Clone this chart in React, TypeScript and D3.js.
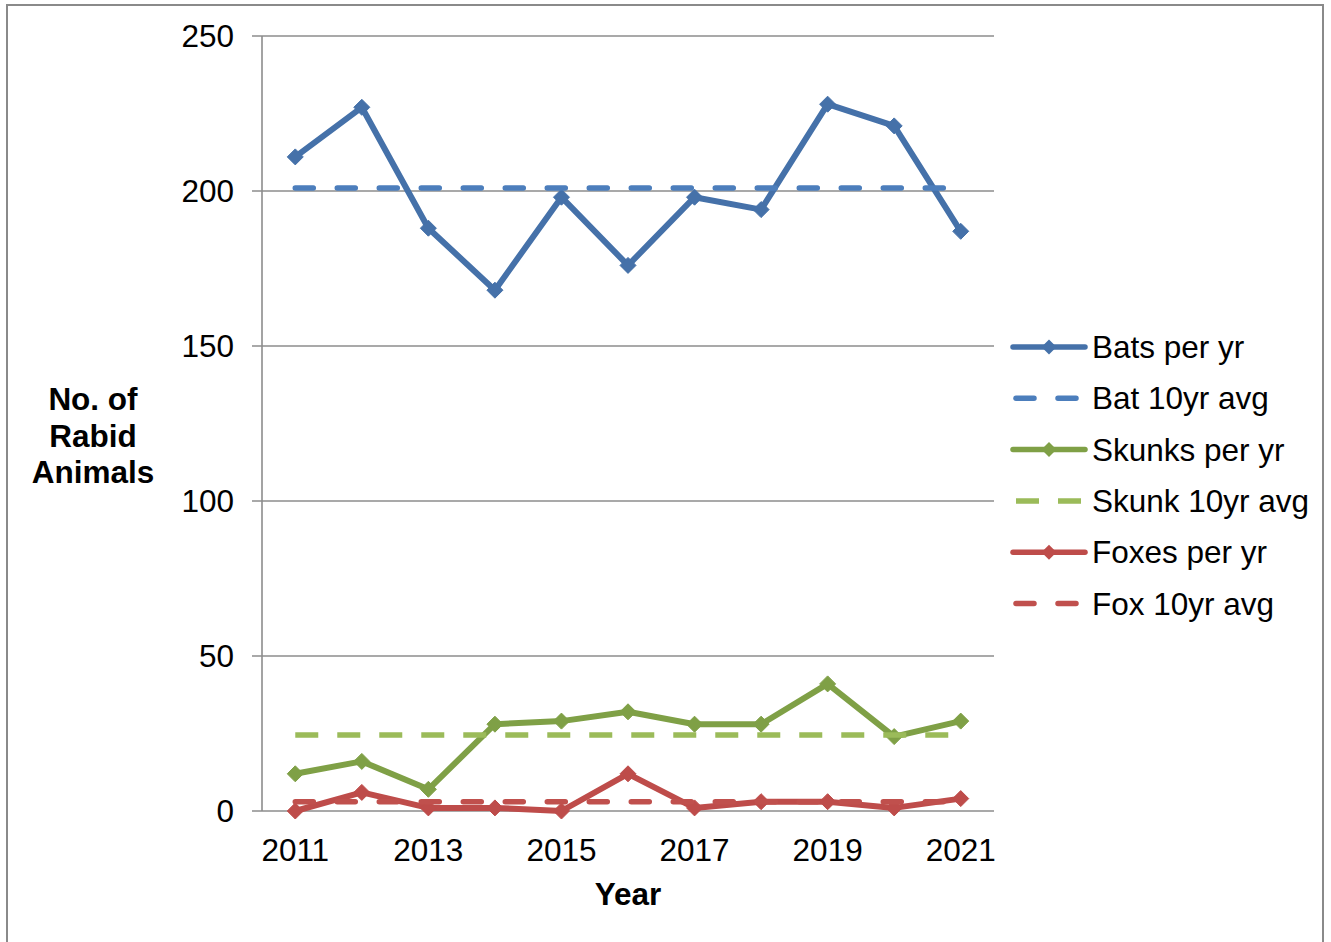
import React from "react";
import * as d3 from "d3";

const years = [2011, 2012, 2013, 2014, 2015, 2016, 2017, 2018, 2019, 2020, 2021];
const batsPerYr = [211, 227, 188, 168, 198, 176, 198, 194, 228, 221, 187];
const batAvg = [201, 201, 201, 201, 201, 201, 201, 201, 201, 201, 201];
const skunksPerYr = [12, 16, 7, 28, 29, 32, 28, 28, 41, 24, 29];
const skunkAvg = [24.5, 24.5, 24.5, 24.5, 24.5, 24.5, 24.5, 24.5, 24.5, 24.5, 24.5];
const foxesPerYr = [0, 6, 1, 1, 0, 12, 1, 3, 3, 1, 4];
const foxAvg = [3, 3, 3, 3, 3, 3, 3, 3, 3, 3, 3];
const yTicks = [0, 50, 100, 150, 200, 250];

type Series = {
  name: string;
  values: number[];
  color: string;
  dashed: boolean;
  cap: "round" | "butt";
};

const series: Series[] = [
  { name: "Bats per yr", values: batsPerYr, color: "#4571A9", dashed: false, cap: "round" },
  { name: "Bat 10yr avg", values: batAvg, color: "#4C7EBC", dashed: true, cap: "round" },
  { name: "Skunks per yr", values: skunksPerYr, color: "#7FA046", dashed: false, cap: "round" },
  { name: "Skunk 10yr avg", values: skunkAvg, color: "#9BBB59", dashed: true, cap: "butt" },
  { name: "Foxes per yr", values: foxesPerYr, color: "#BE4C4A", dashed: false, cap: "round" },
  { name: "Fox 10yr avg", values: foxAvg, color: "#C0504D", dashed: true, cap: "round" },
];

const W = 1331;
const H = 942;
const plot = { left: 262, right: 994, top: 36, bottom: 811 };
const FONT = "Arial, 'Liberation Sans', sans-serif";
const GRID = "#8C8C8C";
const FS = 31.5;

export default function App() {
  const x = d3
    .scalePoint<number>()
    .domain(years)
    .range([plot.left, plot.right])
    .padding(0.5);
  const y = d3.scaleLinear().domain([0, 250]).range([plot.bottom, plot.top]);

  const line = d3
    .line<number>()
    .x((_, i) => x(years[i]) as number)
    .y((v) => y(v));

  const diamond = (cx: number, cy: number, r: number) =>
    `M${cx},${cy - r}L${cx + r},${cy}L${cx},${cy + r}L${cx - r},${cy}Z`;

  const legendX0 = 1013;
  const legendX1 = 1085;
  const legendY0 = 347;
  const legendStep = 51.3;

  return (
    <svg
      width={W}
      height={H}
      style={{ position: "absolute", left: 0, top: 0, background: "#fff" }}
      fontFamily={FONT}
    >
      <rect x={0} y={0} width={W} height={H} fill="#fff" />
      <rect x={7} y={5} width={1316} height={960} fill="none" stroke="#8A8A8A" strokeWidth={2} />

      {/* horizontal gridlines with tick stubs */}
      {yTicks.map((t) => (
        <g key={t}>
          <line x1={252} x2={plot.right} y1={y(t)} y2={y(t)} stroke={GRID} strokeWidth={1.6} />
          <text
            x={234}
            y={y(t)}
            textAnchor="end"
            dominantBaseline="central"
            fontSize={FS}
            fill="#000"
          >
            {t}
          </text>
        </g>
      ))}
      {/* value axis line */}
      <line x1={plot.left} x2={plot.left} y1={plot.top} y2={plot.bottom} stroke={GRID} strokeWidth={1.6} />

      {/* category labels, every second year */}
      {years.map((yr, i) =>
        i % 2 === 0 ? (
          <text
            key={yr}
            x={x(yr) as number}
            y={850}
            textAnchor="middle"
            dominantBaseline="central"
            fontSize={FS}
            fill="#000"
          >
            {yr}
          </text>
        ) : null
      )}

      {/* axis titles */}
      <text x={628} y={894} textAnchor="middle" dominantBaseline="central" fontSize={FS} fontWeight="bold">
        Year
      </text>
      <text textAnchor="middle" fontSize={FS} fontWeight="bold">
        <tspan x={93} y={399} dominantBaseline="central">No. of</tspan>
        <tspan x={93} y={436} dominantBaseline="central">Rabid</tspan>
        <tspan x={93} y={472} dominantBaseline="central">Animals</tspan>
      </text>

      {/* series */}
      {series.map((s) => (
        <g key={s.name}>
          <path
            d={line(s.values) ?? ""}
            fill="none"
            stroke={s.color}
            strokeWidth={s.dashed ? 5.5 : 6}
            strokeLinejoin="round"
            strokeLinecap={s.cap}
            strokeDasharray={s.dashed ? (s.cap === "round" ? "18 24" : "23 19") : undefined}
          />
          {!s.dashed &&
            s.values.map((v, i) => (
              <path key={i} d={diamond(x(years[i]) as number, y(v), 8)} fill={s.color} stroke={s.color} strokeWidth={1} />
            ))}
        </g>
      ))}

      {/* legend */}
      {series.map((s, i) => {
        const ly = legendY0 + i * legendStep;
        return (
          <g key={s.name}>
            {s.dashed ? (
              <line
                x1={legendX0 + 3}
                x2={legendX1 - 4}
                y1={ly}
                y2={ly}
                stroke={s.color}
                strokeWidth={5.5}
                strokeLinecap={s.cap}
                strokeDasharray={s.cap === "round" ? "18 24" : "23 19"}
              />
            ) : (
              <>
                <line x1={legendX0} x2={legendX1} y1={ly} y2={ly} stroke={s.color} strokeWidth={5.5} strokeLinecap="round" />
                <path d={diamond((legendX0 + legendX1) / 2, ly, 7.5)} fill={s.color} />
              </>
            )}
            <text x={1092} y={ly} dominantBaseline="central" fontSize={FS} fill="#000">
              {s.name}
            </text>
          </g>
        );
      })}
    </svg>
  );
}
